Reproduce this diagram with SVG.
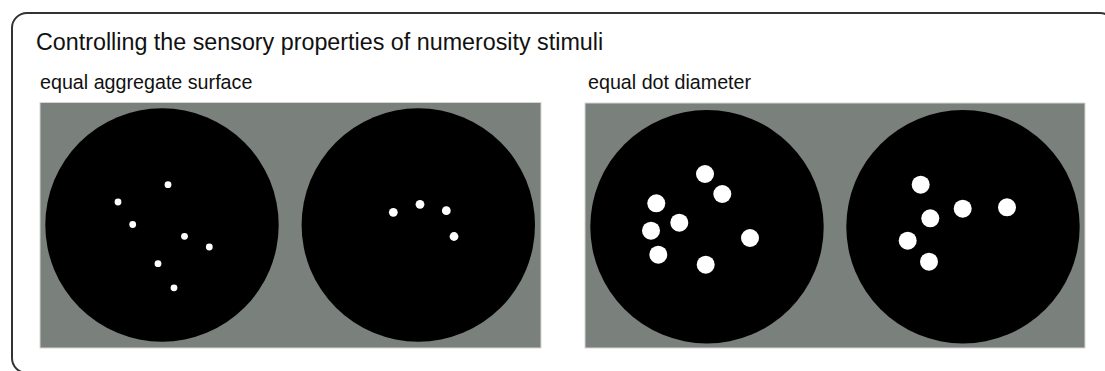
<svg xmlns="http://www.w3.org/2000/svg" width="1105" height="371" viewBox="0 0 1105 371">
  <style>
    .frame { fill: #ffffff; stroke: #333333; stroke-width: 2; }
    .title { font-family: "Liberation Sans", Arial, sans-serif; font-size: 23.3px; fill: #111111; }
    .label { font-family: "Liberation Sans", Arial, sans-serif; font-size: 19.7px; fill: #111111; }
    .panel { fill: #7a807b; stroke: #d4d6d4; stroke-width: 1; }
    .disc { fill: #000000; }
    .dot { fill: #ffffff; }
  </style>
  <rect width="1105" height="371" fill="#ffffff"/>
  <rect class="frame" x="12" y="13" width="1103" height="360" rx="15" ry="15"/>
  <text class="title" x="36" y="50">Controlling the sensory properties of numerosity stimuli</text>

  <g id="equal-aggregate-surface">
    <text class="label" x="40" y="89">equal aggregate surface</text>
    <rect class="panel" x="40" y="102.5" width="501" height="245.5"/>
    <g id="eas-stim-1">
      <circle class="disc" cx="162" cy="225" r="116.7"/>
      <circle class="dot" cx="168" cy="184.7" r="3.4"/>
      <circle class="dot" cx="118" cy="202" r="3.4"/>
      <circle class="dot" cx="132.7" cy="224.5" r="3.4"/>
      <circle class="dot" cx="184.5" cy="236.3" r="3.4"/>
      <circle class="dot" cx="209.3" cy="247" r="3.4"/>
      <circle class="dot" cx="158" cy="263.7" r="3.4"/>
      <circle class="dot" cx="174" cy="287.8" r="3.4"/>
    </g>
    <g id="eas-stim-2">
      <circle class="disc" cx="418.3" cy="225" r="116.7"/>
      <circle class="dot" cx="393.3" cy="212.3" r="4.4"/>
      <circle class="dot" cx="420" cy="204.3" r="4.4"/>
      <circle class="dot" cx="446.3" cy="210.7" r="4.4"/>
      <circle class="dot" cx="454" cy="236.5" r="4.4"/>
    </g>
  </g>

  <g id="equal-dot-diameter">
    <text class="label" x="588" y="89">equal dot diameter</text>
    <rect class="panel" x="585" y="103" width="500" height="245"/>
    <g id="edd-stim-1">
      <circle class="disc" cx="707" cy="226.7" r="116.7"/>
      <circle class="dot" cx="705" cy="174" r="9"/>
      <circle class="dot" cx="722.3" cy="194" r="9"/>
      <circle class="dot" cx="656.3" cy="203.3" r="9"/>
      <circle class="dot" cx="679.3" cy="222.7" r="9"/>
      <circle class="dot" cx="651" cy="230.7" r="9"/>
      <circle class="dot" cx="750" cy="238" r="9"/>
      <circle class="dot" cx="658.3" cy="254.7" r="9"/>
      <circle class="dot" cx="705.7" cy="264.7" r="9"/>
    </g>
    <g id="edd-stim-2">
      <circle class="disc" cx="963" cy="226.7" r="116.7"/>
      <circle class="dot" cx="920.7" cy="184.7" r="9"/>
      <circle class="dot" cx="962.7" cy="208.7" r="9"/>
      <circle class="dot" cx="1007" cy="207.3" r="9"/>
      <circle class="dot" cx="930.3" cy="218.3" r="9"/>
      <circle class="dot" cx="907.7" cy="240.7" r="9"/>
      <circle class="dot" cx="929" cy="261.7" r="9"/>
    </g>
  </g>

  <g id="connectors"/>
</svg>
